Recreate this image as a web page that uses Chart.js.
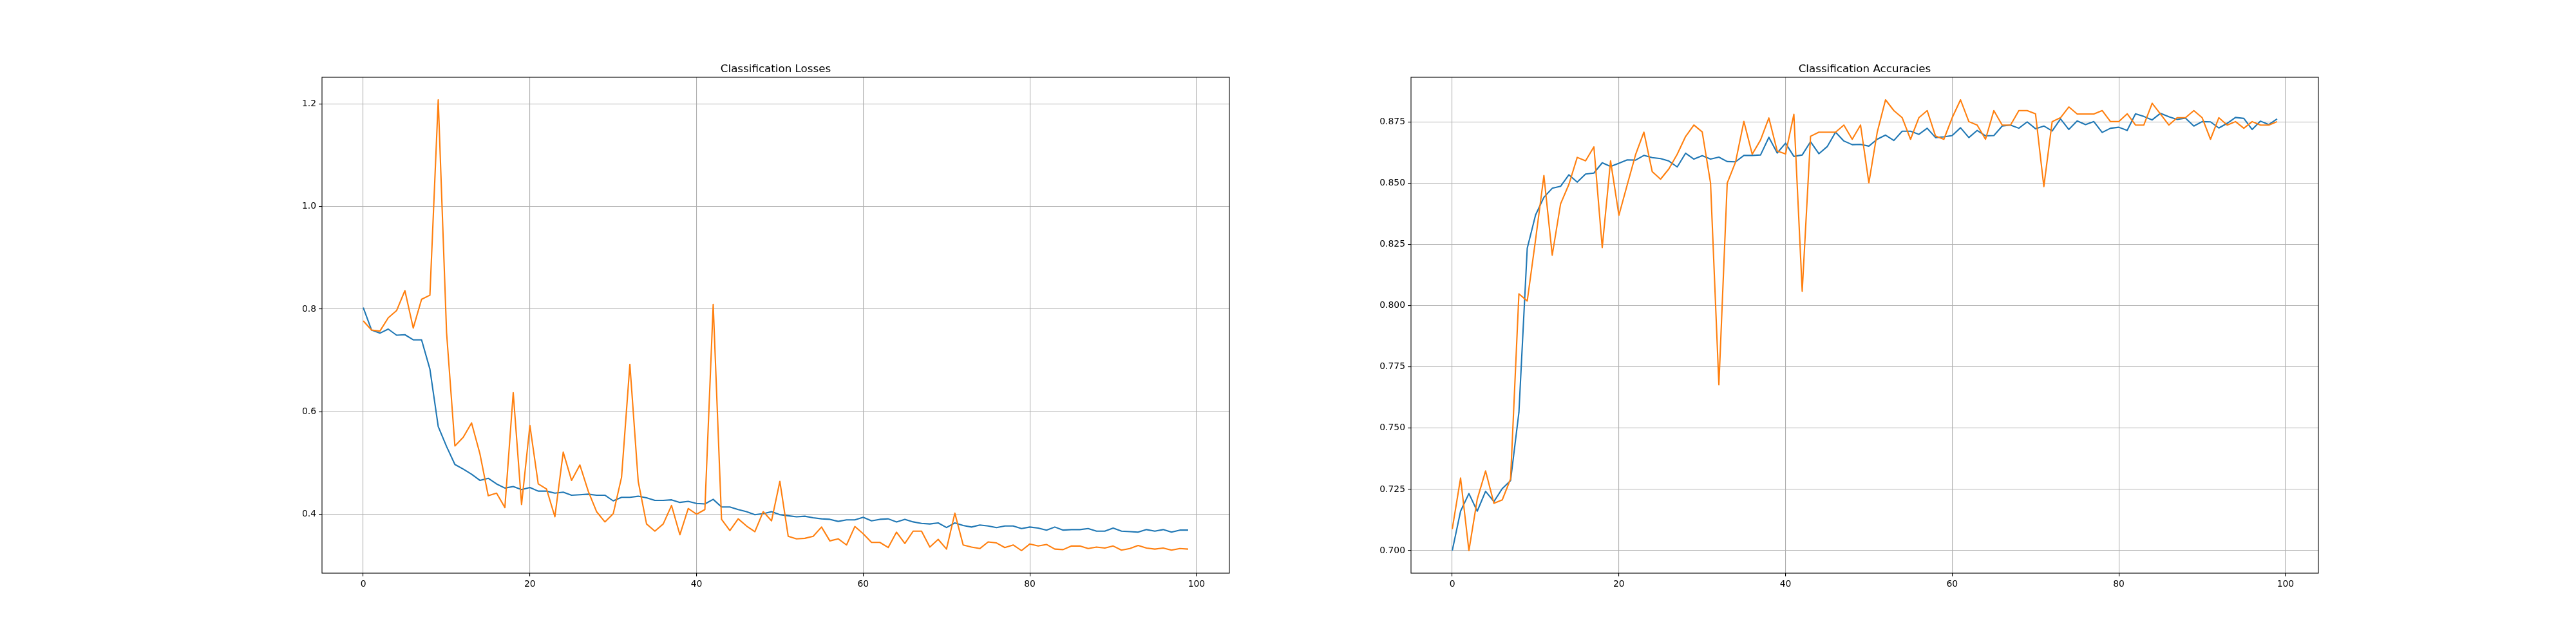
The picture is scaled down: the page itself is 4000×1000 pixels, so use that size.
<!DOCTYPE html>
<html lang="en">

<head>
    <meta charset="UTF-8">
    <title>Classification Losses / Accuracies</title>
    <script src="https://cdn.jsdelivr.net/npm/chart.js"></script>
    <style>
        body {
            margin: 0;
            background: #fff;
            width: 4000px;
            height: 1000px;
            overflow: hidden;
        }

        canvas {
            position: absolute;
            top: 0;
        }

        #lossChart {
            left: 0;
        }

        #accChart {
            left: 2000px;
        }
    </style>
</head>

<body>
    <canvas id="lossChart" width="2000" height="1000"></canvas>
    <canvas id="accChart" width="2000" height="1000"></canvas>

    <script>
        // epochs 0..99
        const epochs = Array.from({ length: 100 }, (_, i) => i);
        const epochTicks = [0, 20, 40, 60, 80, 100];
        const lossTicks = [0.4, 0.6, 0.8, 1.0, 1.2];
        const accTicks = [0.700, 0.725, 0.750, 0.775, 0.800, 0.825, 0.850, 0.875];

        // blue line
        const trainLoss = [
            0.803, 0.759, 0.753, 0.761, 0.749, 0.750, 0.740, 0.740, 0.683, 0.571,
            0.532, 0.497, 0.488, 0.478, 0.466, 0.470, 0.459, 0.451, 0.454, 0.448,
            0.452, 0.445, 0.445, 0.441, 0.443, 0.437, 0.438, 0.439, 0.437, 0.437,
            0.426, 0.433, 0.433, 0.435, 0.432, 0.427, 0.427, 0.428, 0.423, 0.425,
            0.421, 0.420, 0.429, 0.414, 0.414, 0.409, 0.405, 0.399, 0.401, 0.405,
            0.399, 0.397, 0.395, 0.396, 0.393, 0.391, 0.390, 0.386, 0.389, 0.389,
            0.394, 0.387, 0.390, 0.391, 0.385, 0.390, 0.385, 0.382, 0.381, 0.383,
            0.374, 0.383, 0.378, 0.375, 0.379, 0.377, 0.374, 0.377, 0.377, 0.372,
            0.375, 0.373, 0.369, 0.375, 0.369, 0.370, 0.370, 0.372, 0.367, 0.367,
            0.373, 0.367, 0.366, 0.365, 0.370, 0.367, 0.370, 0.365, 0.369, 0.369
        ];
        // orange line
        const valLoss = [
            0.777, 0.759, 0.757, 0.783, 0.797, 0.836, 0.763, 0.819, 0.827, 1.208,
            0.754, 0.533, 0.550, 0.578, 0.518, 0.436, 0.441, 0.413, 0.637, 0.419,
            0.573, 0.459, 0.449, 0.395, 0.521, 0.466, 0.496, 0.445, 0.405, 0.385,
            0.401, 0.472, 0.692, 0.464, 0.381, 0.367, 0.381, 0.417, 0.360, 0.411,
            0.400, 0.409, 0.809, 0.390, 0.368, 0.391, 0.377, 0.366, 0.405, 0.387,
            0.464, 0.357, 0.352, 0.353, 0.357, 0.375, 0.348, 0.352, 0.340, 0.376,
            0.362, 0.345, 0.345, 0.335, 0.365, 0.343, 0.367, 0.367, 0.336, 0.351,
            0.332, 0.402, 0.340, 0.336, 0.333, 0.346, 0.344, 0.335, 0.340, 0.329,
            0.342, 0.338, 0.341, 0.332, 0.331, 0.338, 0.338, 0.333, 0.336, 0.334,
            0.338, 0.330, 0.333, 0.339, 0.334, 0.332, 0.334, 0.330, 0.333, 0.332
        ];
        const trainAcc = [
            0.7000, 0.7161, 0.7233, 0.7161, 0.7242, 0.7200, 0.7253, 0.7286, 0.7564, 0.8234,
            0.8370, 0.8442, 0.8479, 0.8487, 0.8534, 0.8504, 0.8537, 0.8541, 0.8583, 0.8568,
            0.8581, 0.8595, 0.8594, 0.8613, 0.8604, 0.8600, 0.8590, 0.8566, 0.8622, 0.8598,
            0.8612, 0.8598, 0.8606, 0.8588, 0.8587, 0.8613, 0.8613, 0.8615, 0.8687, 0.8623,
            0.8663, 0.8609, 0.8615, 0.8669, 0.8620, 0.8649, 0.8708, 0.8672, 0.8657, 0.8658,
            0.8651, 0.8679, 0.8696, 0.8674, 0.8712, 0.8712, 0.8699, 0.8724, 0.8686, 0.8689,
            0.8694, 0.8726, 0.8686, 0.8715, 0.8693, 0.8694, 0.8733, 0.8737, 0.8724, 0.8750,
            0.8722, 0.8733, 0.8713, 0.8762, 0.8719, 0.8754, 0.8739, 0.8751, 0.8707, 0.8724,
            0.8728, 0.8715, 0.8783, 0.8772, 0.8758, 0.8785, 0.8771, 0.8760, 0.8765, 0.8733,
            0.8751, 0.8750, 0.8725, 0.8744, 0.8768, 0.8764, 0.8719, 0.8753, 0.8739, 0.8762
        ];
        const valAcc = [
            0.7088, 0.7296, 0.7000, 0.7210, 0.7325, 0.7193, 0.7207, 0.7293, 0.8048, 0.8019,
            0.8269, 0.8531, 0.8206, 0.8415, 0.8495, 0.8605, 0.8591, 0.8648, 0.8237, 0.8591,
            0.8369, 0.8493, 0.8616, 0.8708, 0.8547, 0.8516, 0.8558, 0.8618, 0.8690, 0.8737,
            0.8709, 0.8500, 0.7677, 0.8500, 0.8586, 0.8752, 0.8618, 0.8676, 0.8766, 0.8631,
            0.8619, 0.8781, 0.8059, 0.8691, 0.8708, 0.8708, 0.8708, 0.8737, 0.8679, 0.8737,
            0.8501, 0.8707, 0.8840, 0.8796, 0.8767, 0.8679, 0.8767, 0.8796, 0.8692, 0.8679,
            0.8767, 0.8840, 0.8751, 0.8737, 0.8679, 0.8796, 0.8737, 0.8737, 0.8796, 0.8796,
            0.8783, 0.8486, 0.8751, 0.8767, 0.8811, 0.8782, 0.8782, 0.8782, 0.8796, 0.8751,
            0.8751, 0.8783, 0.8737, 0.8737, 0.8826, 0.8782, 0.8737, 0.8767, 0.8767, 0.8796,
            0.8767, 0.8679, 0.8767, 0.8737, 0.8751, 0.8724, 0.8751, 0.8737, 0.8737, 0.8751
        ];

        Chart.defaults.font.family = "'DejaVu Sans', sans-serif";
        Chart.defaults.color = '#000';

        // matplotlib-like autoscale: 5% margin on each side
        function padRange(arrs) {
            const all = [].concat(...arrs);
            const lo = Math.min(...all), hi = Math.max(...all);
            const m = (hi - lo) * 0.05;
            return { min: lo - m, max: hi + m };
        }

        // box around the axes + title above it
        const framePlugin = {
            id: 'frame',
            afterDraw(chart, args, opts) {
                const { ctx, chartArea: a } = chart;
                ctx.save();
                ctx.strokeStyle = '#000';
                ctx.lineWidth = 1.1;
                ctx.strokeRect(a.left, a.top, a.right - a.left, a.bottom - a.top);
                ctx.fillStyle = '#000';
                ctx.font = "16.7px 'DejaVu Sans', sans-serif";
                ctx.textAlign = 'center';
                ctx.textBaseline = 'alphabetic';
                ctx.fillText(opts.text, (a.left + a.right) / 2, a.top - 8.5);
                ctx.restore();
            }
        };

        function makeChart(id, title, train, val, yTicks, decimals, padLeft, padRight) {
            const yr = padRange([train, val]);
            const gridOpts = {
                color: '#b0b0b0',
                lineWidth: 1.1,
                tickColor: '#000',
                tickLength: 5,
                drawTicks: true
            };
            return new Chart(document.getElementById(id), {
                type: 'line',
                data: {
                    labels: epochs,
                    datasets: [{
                        label: 'train',
                        data: train,
                        borderColor: '#1f77b4',
                        borderWidth: 2.1,
                        pointRadius: 0,
                        tension: 0,
                        borderJoinStyle: 'round',
                        order: 1
                    }, {
                        label: 'val',
                        data: val,
                        borderColor: '#ff7f0e',
                        borderWidth: 2.1,
                        pointRadius: 0,
                        tension: 0,
                        borderJoinStyle: 'round',
                        order: 0
                    }]
                },
                options: {
                    responsive: false,
                    animation: false,
                    devicePixelRatio: 1,
                    layout: {
                        padding: { left: padLeft, right: padRight, top: 120, bottom: 50 }
                    },
                    plugins: {
                        legend: { display: false },
                        title: { display: false },
                        tooltip: { enabled: false },
                        frame: { text: title }
                    },
                    scales: {
                        x: {
                            type: 'linear',
                            min: -4.95,
                            max: 103.95,
                            grid: gridOpts,
                            border: { display: false },
                            afterBuildTicks: s => { s.ticks = epochTicks.map(v => ({ value: v })); },
                            afterFit: s => { s.height = 60; },
                            ticks: {
                                autoSkip: false,
                                maxRotation: 0,
                                padding: 4,
                                font: { size: 13.9 },
                                callback: v => String(v)
                            }
                        },
                        y: {
                            type: 'linear',
                            min: yr.min,
                            max: yr.max,
                            grid: gridOpts,
                            border: { display: false },
                            afterBuildTicks: s => { s.ticks = yTicks.map(v => ({ value: v })); },
                            afterFit: s => { s.width = 100; },
                            ticks: {
                                autoSkip: false,
                                padding: 4,
                                font: { size: 13.9 },
                                callback: v => v.toFixed(decimals)
                            }
                        }
                    }
                },
                plugins: [framePlugin]
            });
        }

        // axes boxes: 500..1909 and 2191..3600 horizontally, 120..890 vertically
        makeChart('lossChart', 'Classification Losses', trainLoss, valLoss, lossTicks, 1, 400, 91);
        makeChart('accChart', 'Classification Accuracies', trainAcc, valAcc, accTicks, 3, 91, 400);
    </script>
</body>

</html>
